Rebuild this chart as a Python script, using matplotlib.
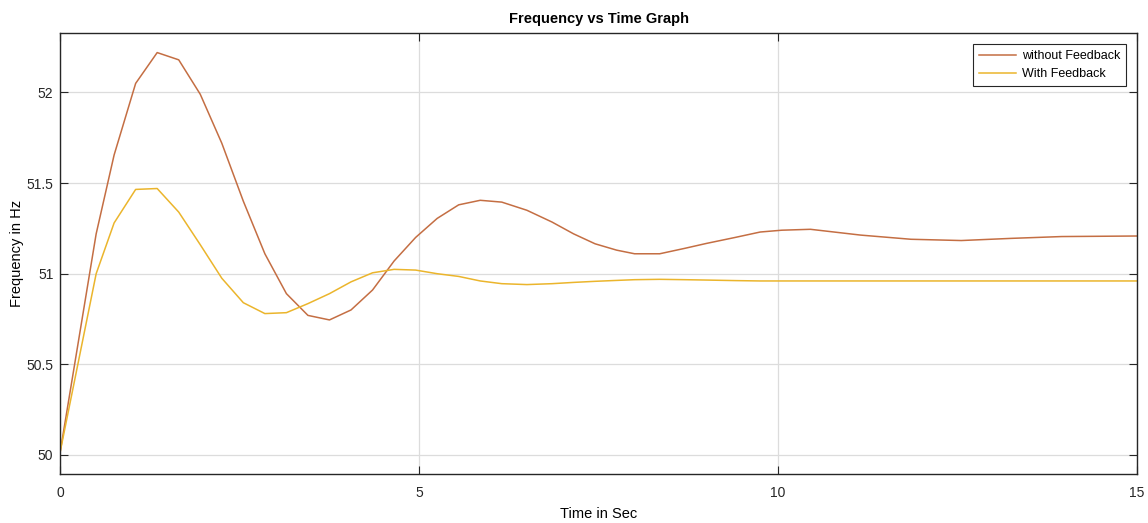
import matplotlib.pyplot as plt
import numpy as np

# time samples (s)
t = [0, 0.5, 0.75, 1.05, 1.35, 1.65, 1.95, 2.25, 2.55, 2.85, 3.15, 3.45, 3.75,
     4.05, 4.35, 4.65, 4.95, 5.25, 5.55, 5.85, 6.15, 6.5, 6.85, 7.15, 7.45,
     7.75, 8.0, 8.35, 8.7, 9.0, 9.4, 9.75, 10.05, 10.45, 11.15, 11.85, 12.55,
     13.25, 13.95, 15]

# frequency without feedback (Hz)
f_without = [50.02, 51.22, 51.655, 52.05, 52.22, 52.18, 51.99, 51.72, 51.40,
             51.11, 50.89, 50.77, 50.745, 50.80, 50.91, 51.07, 51.20, 51.305,
             51.38, 51.405, 51.395, 51.35, 51.285, 51.22, 51.165, 51.13,
             51.11, 51.11, 51.14, 51.167, 51.20, 51.23, 51.24, 51.245,
             51.213, 51.19, 51.183, 51.195, 51.205, 51.208]

# frequency with feedback (Hz)
f_with = [50.02, 51.0, 51.28, 51.465, 51.47, 51.34, 51.16, 50.975, 50.84,
          50.78, 50.785, 50.835, 50.89, 50.955, 51.005, 51.024, 51.02, 51.0,
          50.985, 50.96, 50.945, 50.94, 50.945, 50.952, 50.958, 50.963,
          50.967, 50.969, 50.967, 50.965, 50.962, 50.96, 50.96, 50.96,
          50.96, 50.96, 50.96, 50.96, 50.96, 50.96]

plt.rcParams['font.family'] = ['Liberation Sans', 'DejaVu Sans']

fig = plt.figure(figsize=(11.48, 5.23), dpi=100)
ax = fig.add_axes([0.0525, 0.0937, 0.938, 0.8432])

ax.plot(t, f_without, color='#c46e43', lw=1.1, label='without Feedback')
ax.plot(t, f_with, color='#ebb52c', lw=1.1, label='With Feedback')

ax.set_xlim(0, 15)
ax.set_ylim(49.895, 52.328)
ax.set_xticks([0, 5, 10, 15])
ax.set_yticks([50, 50.5, 51, 51.5, 52])
ax.set_yticklabels(['50', '50.5', '51', '51.5', '52'])
ax.grid(True, color='#dcdcdc', lw=0.9)
ax.tick_params(direction='in', length=6, labelsize=10, top=True, right=True,
               color='#262626', labelcolor='#262626')
ax.tick_params(axis='x', pad=9)
ax.tick_params(axis='y', pad=5)
for s in ax.spines.values():
    s.set_color('#262626')
    s.set_linewidth(1.0)

ax.set_title('Frequency vs Time Graph', fontsize=10.5, fontweight='bold', pad=7)
ax.set_xlabel('Time in Sec', fontsize=10.5, labelpad=5)
ax.set_ylabel('Frequency in Hz', fontsize=10.5, labelpad=2)

leg = ax.legend(loc='upper right', fontsize=9, fancybox=False, framealpha=1,
                edgecolor='#262626', borderpad=0.45, handlelength=3.0,
                handletextpad=0.45, labelspacing=0.5, borderaxespad=0.9)
leg.get_frame().set_linewidth(0.8)

fig.savefig('out.png', dpi=100)
